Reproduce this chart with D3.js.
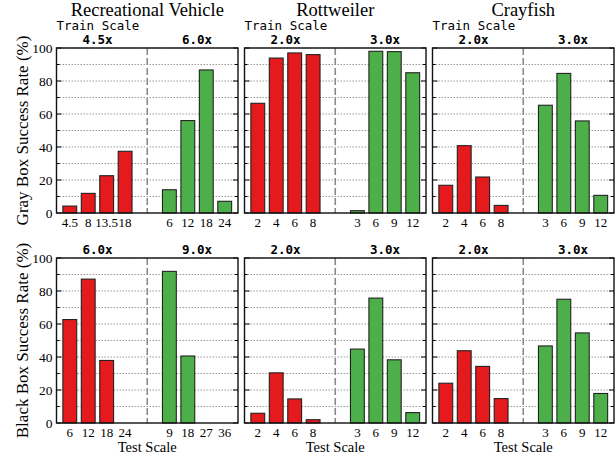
<!DOCTYPE html>
<html>
<head>
<meta charset="utf-8">
<script src="https://cdn.jsdelivr.net/npm/d3@7"></script>
<style>
  html, body { margin: 0; padding: 0; background: #fff; }
  svg { display: block; }
</style>
</head>
<body>
<svg id="chart" width="616" height="460"></svg>
<script>
// Objects (one column each)
const objects = ["Recreational Vehicle", "Rottweiler", "Crayfish"];
// Train-scale labels per object, per row: [gray box, black box]
const trainScalesGray = [["4.5x", "6.0x"], ["2.0x", "3.0x"], ["2.0x", "3.0x"]];
const trainScalesBlack = [["6.0x", "9.0x"], ["2.0x", "3.0x"], ["2.0x", "3.0x"]];
// Test-scale tick labels per object, per row
const testTicksGray = [
  ["4.5", "8", "13.5", "18", "6", "12", "18", "24"],
  ["2", "4", "6", "8", "3", "6", "9", "12"],
  ["2", "4", "6", "8", "3", "6", "9", "12"]
];
const testTicksBlack = [
  ["6", "12", "18", "24", "9", "18", "27", "36"],
  ["2", "4", "6", "8", "3", "6", "9", "12"],
  ["2", "4", "6", "8", "3", "6", "9", "12"]
];
// Success rates (%) — first four bars use the first train scale, last four the second
const grayBoxRates = [
  [4.2, 11.9, 22.6, 37.4, 14.1, 56.0, 86.7, 7.1],
  [66.5, 93.9, 97.0, 96.0, 1.4, 98.0, 97.8, 85.0],
  [16.8, 40.8, 21.8, 4.6, 65.3, 84.6, 55.8, 10.7]
];
const blackBoxRates = [
  [62.7, 87.2, 37.9, 0, 91.9, 40.6, 0, 0],
  [5.9, 30.4, 14.6, 2.0, 44.8, 75.7, 38.3, 6.3],
  [24.1, 43.8, 34.3, 14.8, 46.7, 75.0, 54.6, 17.9]
];
const yTicks = [0, 20, 40, 60, 80, 100];
const rowLabels = ["Gray Box Success Rate (%)", "Black Box Success Rate (%)"];

const colors = ["#e41a1c", "#4daf4a"];
const serif = "'Liberation Serif', 'Times New Roman', serif";
const mono = "'DejaVu Sans Mono', monospace";

const svg = d3.select("#chart");

const panelW = 181.5, panelH = 165;
const lefts = [56.5, 244.5, 432.5];
const tops = [48, 258];

// bar slots: 0..3 for first group, shifted for second group with a wider gap
const gapShift = 1.4;
const slotPos = i => (i < 4 ? i : i + gapShift);
const divider = 3 + (1 + gapShift) / 2;

const rows = [
  { rates: grayBoxRates, ticks: testTicksGray, scales: trainScalesGray },
  { rates: blackBoxRates, ticks: testTicksBlack, scales: trainScalesBlack }
];

rows.forEach((row, r) => {
  objects.forEach((obj, c) => {
    const x0 = lefts[c], y0 = tops[r];
    const g = svg.append("g").attr("transform", `translate(${x0},${y0})`);
    const x = d3.scaleLinear().domain([-0.72, 7 + gapShift + 0.72]).range([0, panelW]);
    const y = d3.scaleLinear().domain([0, 100]).range([panelH, 0]);
    const bw = x(0.75) - x(0);

    // dotted grid lines every 10
    g.selectAll("line.grid").data(d3.range(10, 101, 10)).join("line")
      .attr("x1", 0).attr("x2", panelW)
      .attr("y1", d => y(d)).attr("y2", d => y(d))
      .attr("stroke", "#9a9a9a").attr("stroke-width", 1)
      .attr("stroke-dasharray", "1.5,1.5");

    // inward tick marks on both sides
    const tk = d3.range(0, 101, 10);
    g.selectAll("line.tl").data(tk).join("line")
      .attr("x1", 0).attr("x2", d => (d % 20 === 0 ? 5 : 3))
      .attr("y1", d => y(d)).attr("y2", d => y(d))
      .attr("stroke", "#000").attr("stroke-width", 1);
    g.selectAll("line.tr").data(tk).join("line")
      .attr("x1", panelW).attr("x2", d => panelW - (d % 20 === 0 ? 5 : 3))
      .attr("y1", d => y(d)).attr("y2", d => y(d))
      .attr("stroke", "#000").attr("stroke-width", 1);

    // divider between train scales
    g.append("line")
      .attr("x1", x(divider)).attr("x2", x(divider))
      .attr("y1", 0).attr("y2", panelH)
      .attr("stroke", "#8a8a8a").attr("stroke-width", 1.6)
      .attr("stroke-dasharray", "7,3");

    // bars
    g.selectAll("rect.bar").data(row.rates[c]).join("rect")
      .attr("x", (d, i) => x(slotPos(i)) - bw / 2)
      .attr("y", d => y(d))
      .attr("width", bw)
      .attr("height", d => panelH - y(d))
      .attr("fill", (d, i) => colors[i < 4 ? 0 : 1])
      .attr("stroke", "#222").attr("stroke-width", 1.1);

    // frame
    g.append("rect")
      .attr("x", 0).attr("y", 0).attr("width", panelW).attr("height", panelH)
      .attr("fill", "none").attr("stroke", "#111").attr("stroke-width", 1.4);

    // x tick labels
    g.selectAll("text.xt").data(row.ticks[c]).join("text")
      .attr("x", (d, i) => x(slotPos(i)))
      .attr("y", panelH + 14)
      .attr("text-anchor", "middle")
      .attr("font-family", serif).attr("font-size", 13)
      .text(d => d);

    // train scale labels above each group
    [1.5, 4 + gapShift + 1.5].forEach((p, k) => {
      g.append("text")
        .attr("x", x(p))
        .attr("y", -4)
        .attr("text-anchor", "middle")
        .attr("font-family", mono).attr("font-weight", "bold").attr("font-size", 12.5)
        .text(row.scales[c][k]);
    });

    // y axis labels on leftmost column
    if (c === 0) {
      g.selectAll("text.yt").data(yTicks).join("text")
        .attr("x", -4).attr("y", d => y(d) + 4.5)
        .attr("text-anchor", "end")
        .attr("font-family", serif).attr("font-size", 13.5)
        .text(d => d);
      g.append("text")
        .attr("transform", `translate(-29,${panelH / 2}) rotate(-90)`)
        .attr("text-anchor", "middle")
        .attr("font-family", serif).attr("font-size", 17)
        .text(rowLabels[r]);
    }

    if (r === 0) {
      svg.append("text")
        .attr("x", x0 + panelW / 2).attr("y", 15.5)
        .attr("text-anchor", "middle")
        .attr("font-family", serif).attr("font-size", 18.5)
        .text(obj);
      svg.append("text")
        .attr("x", x0).attr("y", 30)
        .attr("font-family", mono).attr("font-size", 12.5)
        .text("Train Scale");
    } else {
      g.append("text")
        .attr("x", panelW / 2).attr("y", panelH + 29)
        .attr("text-anchor", "middle")
        .attr("font-family", serif).attr("font-size", 14.5)
        .text("Test Scale");
    }
  });
});
</script>
</body>
</html>
